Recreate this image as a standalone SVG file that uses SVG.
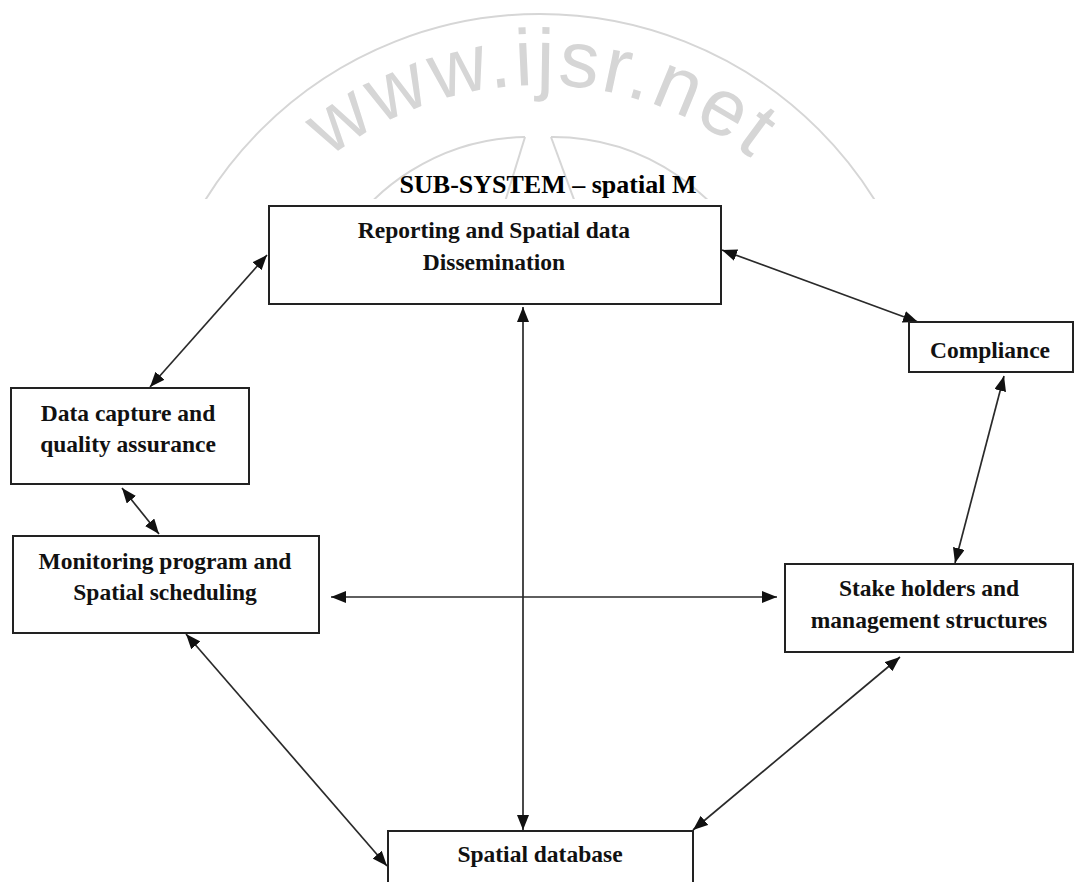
<svg xmlns="http://www.w3.org/2000/svg" width="1075" height="882" viewBox="0 0 1075 882">
<style>
.box{fill:#fff;stroke:#222;stroke-width:2}
.lbl{font-family:"Liberation Serif","Times New Roman",serif;font-weight:bold;font-size:23.5px;fill:#111;text-anchor:middle}
.title{font-family:"Liberation Serif","Times New Roman",serif;font-weight:bold;font-size:26px;fill:#000;text-anchor:middle}
.wm{fill:none;stroke:#d6d6d6;stroke-width:2}
.wmt{font-family:"Liberation Sans",Arial,sans-serif;font-size:80px;fill:#d6d6d6}
.con{stroke:#2a2a2a;stroke-width:1.7;fill:none;marker-start:url(#ah);marker-end:url(#ah)}
</style>
<defs>
<marker id="ah" viewBox="0 0 15 12" refX="15" refY="6" markerWidth="15" markerHeight="12" markerUnits="userSpaceOnUse" orient="auto-start-reverse">
<path d="M0,0 L15,6 L0,12 z" fill="#111"/>
</marker>
<clipPath id="wmclip"><rect x="0" y="0" width="1075" height="199"/></clipPath>
<path id="wmarc" d="M 200,425 A 335,335 0 0 1 880,425"/>
</defs>
<rect width="1075" height="882" fill="#fff"/>
<g id="watermark" clip-path="url(#wmclip)">
<circle class="wm" cx="540" cy="408" r="394"/>
<path class="wm" d="M 330,260 A 222,222 0 0 1 525,137"/>
<path class="wm" d="M 551,137 A 222,222 0 0 1 760,280"/>
<line class="wm" x1="525" y1="137" x2="504" y2="205"/>
<line class="wm" x1="551" y1="137" x2="576" y2="205"/>
<text class="wmt"><textPath href="#wmarc" startOffset="50%" text-anchor="middle" textLength="455" lengthAdjust="spacing">www.ijsr.net</textPath></text>
</g>
<text class="title" x="548" y="193">SUB-SYSTEM – spatial M</text>
<g id="connectors">
<line class="con" x1="150" y1="387" x2="267" y2="255"/>
<line class="con" x1="722" y1="250" x2="918" y2="322"/>
<line class="con" x1="122" y1="488" x2="159" y2="534"/>
<line class="con" x1="331" y1="597" x2="777" y2="597"/>
<line class="con" x1="1004" y1="376" x2="955" y2="563"/>
<line class="con" x1="523" y1="307" x2="523" y2="830"/>
<line class="con" x1="186" y1="634" x2="387" y2="866"/>
<line class="con" x1="900" y1="657" x2="693" y2="830"/>
</g>
<g id="reporting">
<rect class="box" x="269" y="206" width="452" height="98"/>
<text class="lbl" x="494" y="238">Reporting and Spatial data</text>
<text class="lbl" x="494" y="270">Dissemination</text>
</g>
<g id="compliance">
<rect class="box" x="909" y="322" width="164" height="50"/>
<text class="lbl" x="990" y="358">Compliance</text>
</g>
<g id="datacapture">
<rect class="box" x="11" y="388" width="238" height="96"/>
<text class="lbl" x="128" y="421">Data capture and</text>
<text class="lbl" x="128" y="452">quality assurance</text>
</g>
<g id="monitoring">
<rect class="box" x="13" y="536" width="306" height="97"/>
<text class="lbl" x="165" y="569">Monitoring program and</text>
<text class="lbl" x="165" y="600">Spatial scheduling</text>
</g>
<g id="stakeholders">
<rect class="box" x="785" y="564" width="288" height="88"/>
<text class="lbl" x="929" y="596">Stake holders and</text>
<text class="lbl" x="929" y="628">management structures</text>
</g>
<g id="database">
<rect class="box" x="388" y="831" width="305" height="80"/>
<text class="lbl" x="540" y="862">Spatial database</text>
</g>
</svg>
